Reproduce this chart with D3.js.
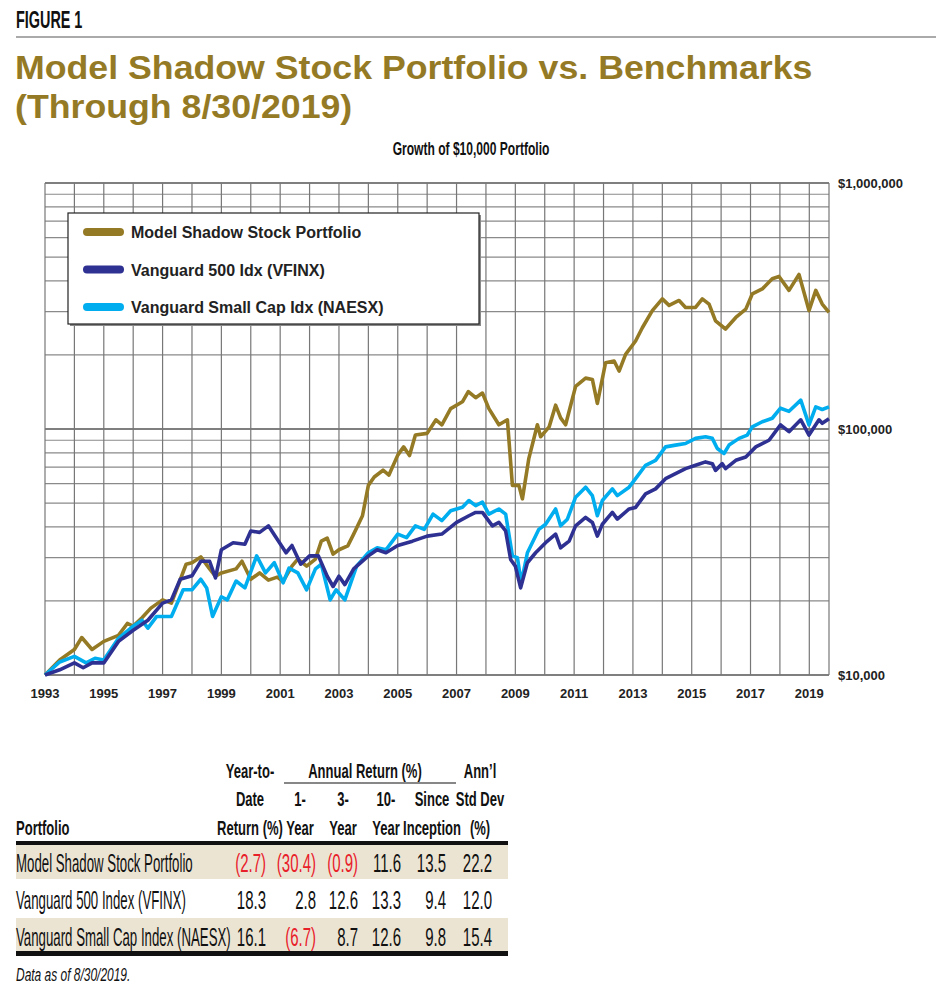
<!DOCTYPE html>
<html><head><meta charset="utf-8">
<script src="https://cdn.jsdelivr.net/npm/d3@7"></script>
<style>body{margin:0;background:#fff}</style></head>
<body><svg id="fig" width="952" height="1000"></svg>
<script>
// values in $ thousands, [year, value]
var model = [[1993,10],[1993.5,11.5],[1994,12.7],[1994.25,14.2],[1994.6,12.7],[1995,13.7],[1995.5,14.5],[1995.8,16.2],[1996,15.8],[1996.3,17.1],[1996.6,18.7],[1997,20.2],[1997.3,19.6],[1997.8,28.2],[1998,28.6],[1998.3,30.2],[1998.6,27],[1998.8,25.2],[1999,26],[1999.5,27],[1999.7,29],[2000,24.5],[2000.3,26],[2000.6,24.3],[2000.9,25],[2001.1,24],[2001.4,27.7],[2001.6,29.6],[2001.9,27.7],[2002.2,29.6],[2002.4,35],[2002.6,36],[2002.8,31],[2003,32.3],[2003.3,33.5],[2003.5,37.4],[2003.8,44.4],[2004,59],[2004.2,63.8],[2004.5,68],[2004.7,65],[2005,78.3],[2005.2,84.6],[2005.4,78],[2005.6,94.5],[2006,96],[2006.3,109],[2006.5,104],[2006.8,121],[2007.2,129],[2007.4,142],[2007.65,134],[2007.88,140],[2008.1,121],[2008.44,104],[2008.73,109],[2008.9,59],[2009.12,59],[2009.24,52],[2009.46,76],[2009.75,104],[2009.86,93],[2010.15,102],[2010.37,125],[2010.54,111],[2010.71,104],[2011.05,149],[2011.39,161],[2011.62,159],[2011.79,127],[2012.07,186],[2012.36,189],[2012.53,172],[2012.75,201],[2013.09,228],[2013.32,258],[2013.66,303],[2014,338],[2014.23,318],[2014.57,333],[2014.79,312],[2015.13,312],[2015.36,338],[2015.59,322],[2015.81,275],[2016.15,255],[2016.5,284],[2016.84,307],[2017.06,354],[2017.4,371],[2017.74,408],[2017.97,417],[2018.31,366],[2018.65,425],[2018.99,303],[2019.22,366],[2019.44,322],[2019.67,298]];
var vfinx = [[1993,10],[1993.5,10.5],[1994,11.2],[1994.3,10.7],[1994.6,11.2],[1995,11.2],[1995.5,13.7],[1996,15.2],[1996.5,16.7],[1997,19.6],[1997.3,20.2],[1997.6,24.5],[1998,25.3],[1998.3,29],[1998.6,29],[1998.8,24.8],[1999,32.3],[1999.4,34.5],[1999.8,34],[2000,38.5],[2000.3,38],[2000.6,40.4],[2000.9,35.6],[2001.2,31.4],[2001.4,33.6],[2001.7,28.2],[2002,30.5],[2002.3,30.5],[2002.6,25.2],[2002.8,22.9],[2003,25.2],[2003.2,23.3],[2003.5,27],[2004,30.5],[2004.3,32.3],[2004.6,31.4],[2005,33.6],[2005.5,35],[2006,36.7],[2006.5,37.4],[2007,41.7],[2007.42,44.4],[2007.65,45.8],[2007.88,45.8],[2008.22,40.4],[2008.44,41.7],[2008.67,38.5],[2008.84,29.5],[2009,27.7],[2009.18,22.6],[2009.41,28.6],[2009.69,31.4],[2010.03,34.5],[2010.37,37.4],[2010.54,32.9],[2010.83,35],[2011.05,40.4],[2011.39,43.7],[2011.62,41.7],[2011.79,36.7],[2011.96,41],[2012.3,45.8],[2012.47,43],[2012.87,47.3],[2013.09,48],[2013.43,54.5],[2013.77,57.1],[2014.11,62.8],[2014.45,65.8],[2014.79,69],[2015.13,71.2],[2015.47,73.5],[2015.7,72.3],[2015.81,67.9],[2016.04,72.3],[2016.15,69],[2016.5,74.6],[2016.84,77],[2017.18,84.6],[2017.63,90],[2018.02,104],[2018.31,97.5],[2018.71,109],[2018.99,94.5],[2019.33,109],[2019.44,105.5],[2019.67,110]];
var naesx = [[1993,10],[1993.5,11.3],[1994,11.9],[1994.4,11.2],[1994.7,11.7],[1995,11.5],[1995.5,14.1],[1996,15.8],[1996.3,16.7],[1996.5,15.5],[1996.8,17.3],[1997.3,17.3],[1997.7,22.2],[1998,22.2],[1998.3,24.5],[1998.5,22.6],[1998.7,17.3],[1999,20.8],[1999.2,20.2],[1999.5,24.1],[1999.8,22.6],[2000.2,30.5],[2000.5,26],[2000.8,28.6],[2001.1,23.7],[2001.3,27.2],[2001.6,26],[2001.9,22.2],[2002.2,27],[2002.4,28.2],[2002.7,20.2],[2002.9,22.2],[2003.2,20.2],[2003.6,27.7],[2004,31.4],[2004.3,32.9],[2004.6,32.3],[2005,37.4],[2005.3,36.2],[2005.6,40.4],[2005.9,39.1],[2006.2,45.1],[2006.5,42.4],[2006.8,46.5],[2007.2,48.1],[2007.42,51.2],[2007.65,48.8],[2007.88,50.4],[2008.1,45.1],[2008.44,47.3],[2008.67,45.1],[2008.9,30.5],[2009.07,30],[2009.2,23.7],[2009.41,31.4],[2009.8,39.1],[2010.03,41],[2010.37,47.3],[2010.54,40.4],[2010.77,43],[2011.05,52.8],[2011.39,58],[2011.62,53.6],[2011.79,44.4],[2011.96,51.2],[2012.3,57.1],[2012.47,53.6],[2012.87,58],[2013.09,62.8],[2013.43,71.2],[2013.77,74.6],[2014.11,84.6],[2014.45,86],[2014.79,87.3],[2015.13,91.6],[2015.47,93],[2015.7,91.6],[2015.87,83.3],[2016.1,79.5],[2016.27,86],[2016.61,91.6],[2016.89,94.5],[2017.06,102],[2017.4,107],[2017.74,110.6],[2018.02,121.5],[2018.31,118],[2018.71,131],[2018.99,104],[2019.22,123],[2019.44,120],[2019.67,123]];

var seriesNames = ["Model Shadow Stock Portfolio","Vanguard 500 Idx (VFINX)","Vanguard Small Cap Idx (NAESX)"];
var seriesColors = ["#957a26","#2e3192","#00aeef"];
var yTickLabels = ["$10,000","$100,000","$1,000,000"];
var yTickValues = [10,100,1000];

// column headers, one array of lines per column (bottom-aligned)
var tableHead = [["Portfolio"],["Year-to-","Date","Return (%)"],["1-","Year"],["3-","Year"],["10-","Year"],["Since","Inception"],["Ann\u2019l","Std Dev","(%)"]];
var groupHead = "Annual Return (%)";
var tableRows = [
  ["Model Shadow Stock Portfolio","(2.7)","(30.4)","(0.9)","11.6","13.5","22.2"],
  ["Vanguard 500 Index (VFINX)","18.3","2.8","12.6","13.3","9.4","12.0"],
  ["Vanguard Small Cap Index (NAESX)","16.1","(6.7)","8.7","12.6","9.8","15.4"]
];

var svg = d3.select("#fig");
var gold = "#957a26";
var sans = '"Liberation Sans",Arial,Helvetica,sans-serif';

// text helper; opts.f condenses horizontally (the original uses a condensed face)
function txt(parent, s, xx, yy, size, opts) {
  opts = opts || {};
  var f = opts.f || 1;
  var e = parent.append("text").attr("x",xx/f).attr("y",yy).attr("font-family",sans)
    .attr("font-size",size).attr("fill",opts.fill||"#111")
    .attr("font-weight",opts.bold?"bold":"normal").attr("font-style",opts.italic?"italic":"normal")
    .attr("text-anchor",opts.anchor||"start").text(s);
  if (f !== 1) e.attr("transform","scale(" + f + ",1)");
  return e;
}

// header
txt(svg,"FIGURE 1",16,28,24,{bold:true,f:0.6});
svg.append("line").attr("x1",16).attr("x2",936).attr("y1",37).attr("y2",37).attr("stroke","#aaa").attr("stroke-width",2);
txt(svg,"Model Shadow Stock Portfolio vs. Benchmarks",15,79,34,{bold:true,fill:gold,f:1.05});
txt(svg,"(Through 8/30/2019)",15,118,34,{bold:true,fill:gold,f:1.05});
txt(svg,"Growth of $10,000 Portfolio",471,155,18,{bold:true,anchor:"middle",f:0.67});

// chart
var x = d3.scaleLinear().domain([1993,2019.67]).range([45,829]);
var y = d3.scaleLog().domain([10,1000]).range([675,183]);
var g = svg.append("g");

var minor = [];
[10,100].forEach(function(d){ for (var k=1;k<10;k++) minor.push(d*k); });
minor.push(1000);
g.selectAll(".hg").data(minor).enter().append("line")
  .attr("x1",x(1993)).attr("x2",x(2019.67)).attr("y1",function(d){return y(d);}).attr("y2",function(d){return y(d);})
  .attr("stroke",function(d){return yTickValues.indexOf(d)>=0 ? "#555" : "#8a8a8a";})
  .attr("stroke-width",function(d){return yTickValues.indexOf(d)>=0 ? 1.6 : 1.2;});
g.selectAll(".vg").data(d3.range(1993,2020)).enter().append("line")
  .attr("x1",function(d){return x(d);}).attr("x2",function(d){return x(d);})
  .attr("y1",y(1000)).attr("y2",y(10)).attr("stroke","#777").attr("stroke-width",1.2);
g.append("line").attr("x1",x(2019.67)).attr("x2",x(2019.67)).attr("y1",y(1000)).attr("y2",y(10)).attr("stroke","#777").attr("stroke-width",1.2);

var line = d3.line().x(function(d){return x(d[0]);}).y(function(d){return y(d[1]);});
[[model,0],[naesx,2],[vfinx,1]].forEach(function(p){
  g.append("path").datum(p[0]).attr("d",line).attr("fill","none").attr("stroke",seriesColors[p[1]])
   .attr("stroke-width",3.6).attr("stroke-linejoin","round");
});

// x axis labels
d3.range(1993,2020,2).forEach(function(d){ txt(g,d,x(d),698,13,{bold:true,anchor:"middle",fill:"#222"}); });
// right labels
yTickValues.forEach(function(d,i){ txt(g,yTickLabels[i],838,y(d)+5,13,{bold:true,fill:"#222"}); });

// legend
var lg = svg.append("g");
lg.append("rect").attr("x",70).attr("y",215).attr("width",411).attr("height",111).attr("fill","#888");
lg.append("rect").attr("x",68).attr("y",213).attr("width",411).attr("height",111).attr("fill","#fff").attr("stroke","#222").attr("stroke-width",1.2);
seriesNames.forEach(function(n,i){
  var yy = 232 + i*37.5;
  lg.append("line").attr("x1",87).attr("x2",120).attr("y1",yy).attr("y2",yy)
    .attr("stroke",seriesColors[i]).attr("stroke-width",8).attr("stroke-linecap","round");
  txt(lg,n,131,yy+6,16,{bold:true,fill:"#222"});
});

// table
var t = svg.append("g");
var colR = [266,316,358,401,446,492];
var colC = [16,250,300,343,386,432,480];
t.append("rect").attr("x",16).attr("y",845).attr("width",492).attr("height",34).attr("fill","#ece4d3");
t.append("rect").attr("x",16).attr("y",918).attr("width",492).attr("height",34).attr("fill","#ece4d3");
t.append("rect").attr("x",16).attr("y",841).attr("width",492).attr("height",4).attr("fill","#111");
t.append("rect").attr("x",16).attr("y",951).attr("width",492).attr("height",5).attr("fill","#111");
t.append("line").attr("x1",284).attr("x2",456).attr("y1",783).attr("y2",783).attr("stroke","#111").attr("stroke-width",1.2);

tableHead.forEach(function(lines,c){
  var n = lines.length;
  lines.forEach(function(s,k){
    txt(t,s,colC[c],835-(n-1-k)*28.5,21,{bold:true,anchor:c===0?"start":"middle",f:0.62});
  });
});
txt(t,groupHead,365,778,21,{bold:true,anchor:"middle",f:0.62});

tableRows.forEach(function(r,i){
  var yy = 872 + i*37;
  txt(t,r[0],16,yy,25,{f:0.53});
  r.slice(1).forEach(function(v,j){
    txt(t,v,colR[j],yy,25,{anchor:"end",f:0.6,fill:v.charAt(0)==="(" ? "#e8202a" : "#111"});
  });
});
txt(t,"Data as of 8/30/2019.",16,981,19,{italic:true,f:0.63});
</script></body></html>
